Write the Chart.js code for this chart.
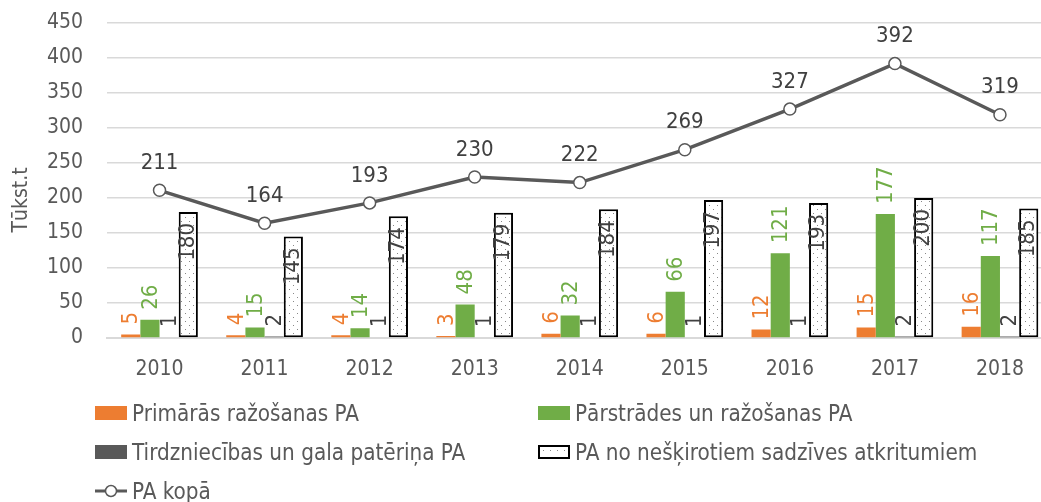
<!DOCTYPE html>
<html>
<head>
<meta charset="utf-8">
<script src="https://cdn.jsdelivr.net/npm/chart.js@4.4.1/dist/chart.umd.min.js"></script>
<style>
  body { margin: 0; overflow: hidden; background: #fff; font-family: 'DejaVu Sans Condensed', 'DejaVu Sans', sans-serif; }
  #wrap { position: relative; width: 1041px; height: 502px; overflow: hidden; }
  #my-chart { position: absolute; left: 0; top: 0; }
  #legend { position: absolute; left: 95px; top: 393px; width: 946px; }
  .row { display: flex; height: 39px; align-items: center; }
  .item { display: flex; align-items: center; color: #595959; font-size: 22.3px; }
  .item.col1 { width: 443px; }
  .sw { width: 32px; height: 14px; margin-right: 5px; box-sizing: border-box; flex: none; }
  .dots { border: 2px solid #000; background-color: #fff;
    background-image: radial-gradient(#888 0.7px, transparent 0.9px);
    background-size: 7px 7px; }
</style>
</head>
<body>
<div id="wrap">
  <canvas id="my-chart" width="1060" height="502"></canvas>
  <div id="legend"></div>
</div>
<script>
'use strict';

let years = ['2010', '2011', '2012', '2013', '2014', '2015', '2016', '2017', '2018'];
let primaryValues = [5, 4, 4, 3, 6, 6, 12, 15, 16];
let processingValues = [26, 15, 14, 48, 32, 66, 121, 177, 117];
let tradeValues = [1, 2, 1, 1, 1, 1, 1, 2, 2];
let householdValues = [180, 145, 174, 179, 184, 197, 193, 200, 185];
let totalValues = [211, 164, 193, 230, 222, 269, 327, 392, 319];

let seriesNames = [
  'Primārās ražošanas PA',
  'Pārstrādes un ražošanas PA',
  'Tirdzniecības un gala patēriņa PA',
  'PA no nešķirotiem sadzīves atkritumiem',
  'PA kopā'
];

let fontFamily = "'DejaVu Sans Condensed', 'DejaVu Sans', sans-serif";
let canvasElement = document.getElementById('my-chart');

function makeDots() {
  let c = document.createElement('canvas');
  c.width = 8;
  c.height = 8;
  let g = c.getContext('2d');
  g.fillStyle = '#fff';
  g.fillRect(0, 0, 8, 8);
  g.fillStyle = '#888';
  g.fillRect(1, 1, 1, 1);
  g.fillRect(5, 5, 1, 1);
  return canvasElement.getContext('2d').createPattern(c, 'repeat');
}

// draws the rotated bar values and the line values
let valueLabels = {
  id: 'valueLabels',
  afterDatasetsDraw(chart) {
    let ctx = chart.ctx;
    ctx.save();
    chart.data.datasets.forEach(function (ds, i) {
      let meta = chart.getDatasetMeta(i);
      meta.data.forEach(function (el, j) {
        let txt = String(ds.data[j]);
        if (ds.type === 'line') {
          ctx.font = '22px ' + fontFamily;
          ctx.fillStyle = '#404040';
          ctx.textAlign = 'center';
          ctx.textBaseline = 'middle';
          ctx.fillText(txt, el.x, el.y - 27);
          return;
        }
        ctx.save();
        ctx.font = '22px ' + fontFamily;
        ctx.fillStyle = ds.labelColor;
        ctx.textBaseline = 'middle';
        if (ds.inside) {
          ctx.translate(el.x, el.y + 11);
          ctx.rotate(-Math.PI / 2);
          ctx.textAlign = 'right';
        } else {
          ctx.translate(el.x + 1, el.y - 10);
          ctx.rotate(-Math.PI / 2);
          ctx.textAlign = 'left';
        }
        ctx.fillText(txt, 0, 0);
        ctx.restore();
      });
    });
    ctx.restore();
  }
};

let axisTitle = {
  id: 'axisTitle',
  afterDraw(chart) {
    let ctx = chart.ctx;
    ctx.save();
    ctx.translate(22, 200);
    ctx.rotate(-Math.PI / 2);
    ctx.font = '21px ' + fontFamily;
    ctx.fillStyle = '#595959';
    ctx.textAlign = 'center';
    ctx.textBaseline = 'middle';
    ctx.fillText('Tūkst.t', 0, 0);
    ctx.restore();
  }
};

function renderLegend() {
  let swatches = [
    '<span class="sw" style="background:#ED7D31"></span>',
    '<span class="sw" style="background:#70AD47"></span>',
    '<span class="sw" style="background:#595959"></span>',
    '<span class="sw dots"></span>',
    '<svg class="sw" style="height:14px" viewBox="0 0 32 14"><line x1="0" y1="7" x2="32" y2="7" stroke="#595959" stroke-width="3"/><circle cx="16" cy="7" r="5.5" fill="#fff" stroke="#595959" stroke-width="1.5"/></svg>'
  ];
  let html = '';
  for (let r = 0; r < 3; r++) {
    html += '<div class="row">';
    for (let c = 0; c < 2; c++) {
      let k = r * 2 + c;
      if (k >= seriesNames.length) continue;
      html += '<div class="item' + (c === 0 ? ' col1' : '') + '">' + swatches[k] + seriesNames[k] + '</div>';
    }
    html += '</div>';
  }
  document.getElementById('legend').innerHTML = html;
}

function renderChart() {
  let chartObj = {
    type: 'bar',
    data: {
      labels: years,
      datasets: [{
        type: 'line',
        label: seriesNames[4],
        data: totalValues,
        borderColor: '#595959',
        borderWidth: 3.5,
        pointRadius: 6,
        pointBackgroundColor: '#fff',
        pointBorderColor: '#595959',
        pointBorderWidth: 1.5,
        order: 0
      },
      {
        label: seriesNames[0],
        data: primaryValues,
        backgroundColor: '#ED7D31',
        labelColor: '#ED7D31',
        order: 1
      },
      {
        label: seriesNames[1],
        data: processingValues,
        backgroundColor: '#70AD47',
        labelColor: '#70AD47',
        order: 1
      },
      {
        label: seriesNames[2],
        data: tradeValues,
        backgroundColor: '#595959',
        labelColor: '#404040',
        order: 1
      },
      {
        label: seriesNames[3],
        data: householdValues,
        backgroundColor: makeDots(),
        borderColor: '#000',
        borderWidth: 2,
        borderSkipped: false,
        labelColor: '#404040',
        inside: true,
        order: 1
      }]
    },
    options: {
      responsive: false,
      animation: false,
      datasets: {
        bar: { categoryPercentage: 0.73, barPercentage: 1 }
      },
      layout: { padding: { top: 23, right: 7, left: 0, bottom: 0 } },
      plugins: {
        legend: { display: false },
        tooltip: { enabled: false }
      },
      scales: {
        x: {
          grid: { display: false, drawTicks: false },
          border: { color: '#d9d9d9', width: 2 },
          ticks: { color: '#595959', font: { size: 21, family: fontFamily }, padding: 19 },
          afterFit(scale) { scale.height = 164; }
        },
        y: {
          min: 0,
          max: 450,
          ticks: { stepSize: 50, color: '#595959', font: { size: 21, family: fontFamily }, padding: 0 },
          // invisible tick marks keep the label gap without extra top padding
          grid: { color: '#d9d9d9', lineWidth: 1.5, drawTicks: true, tickLength: 24, tickColor: 'rgba(0,0,0,0)' },
          border: { display: false },
          afterFit(scale) { scale.width = 107; }
        }
      }
    },
    plugins: [valueLabels, axisTitle]
  };
  new Chart(canvasElement, chartObj);//eslint-disable-line
}

renderLegend();
renderChart();
</script>
</body>
</html>
